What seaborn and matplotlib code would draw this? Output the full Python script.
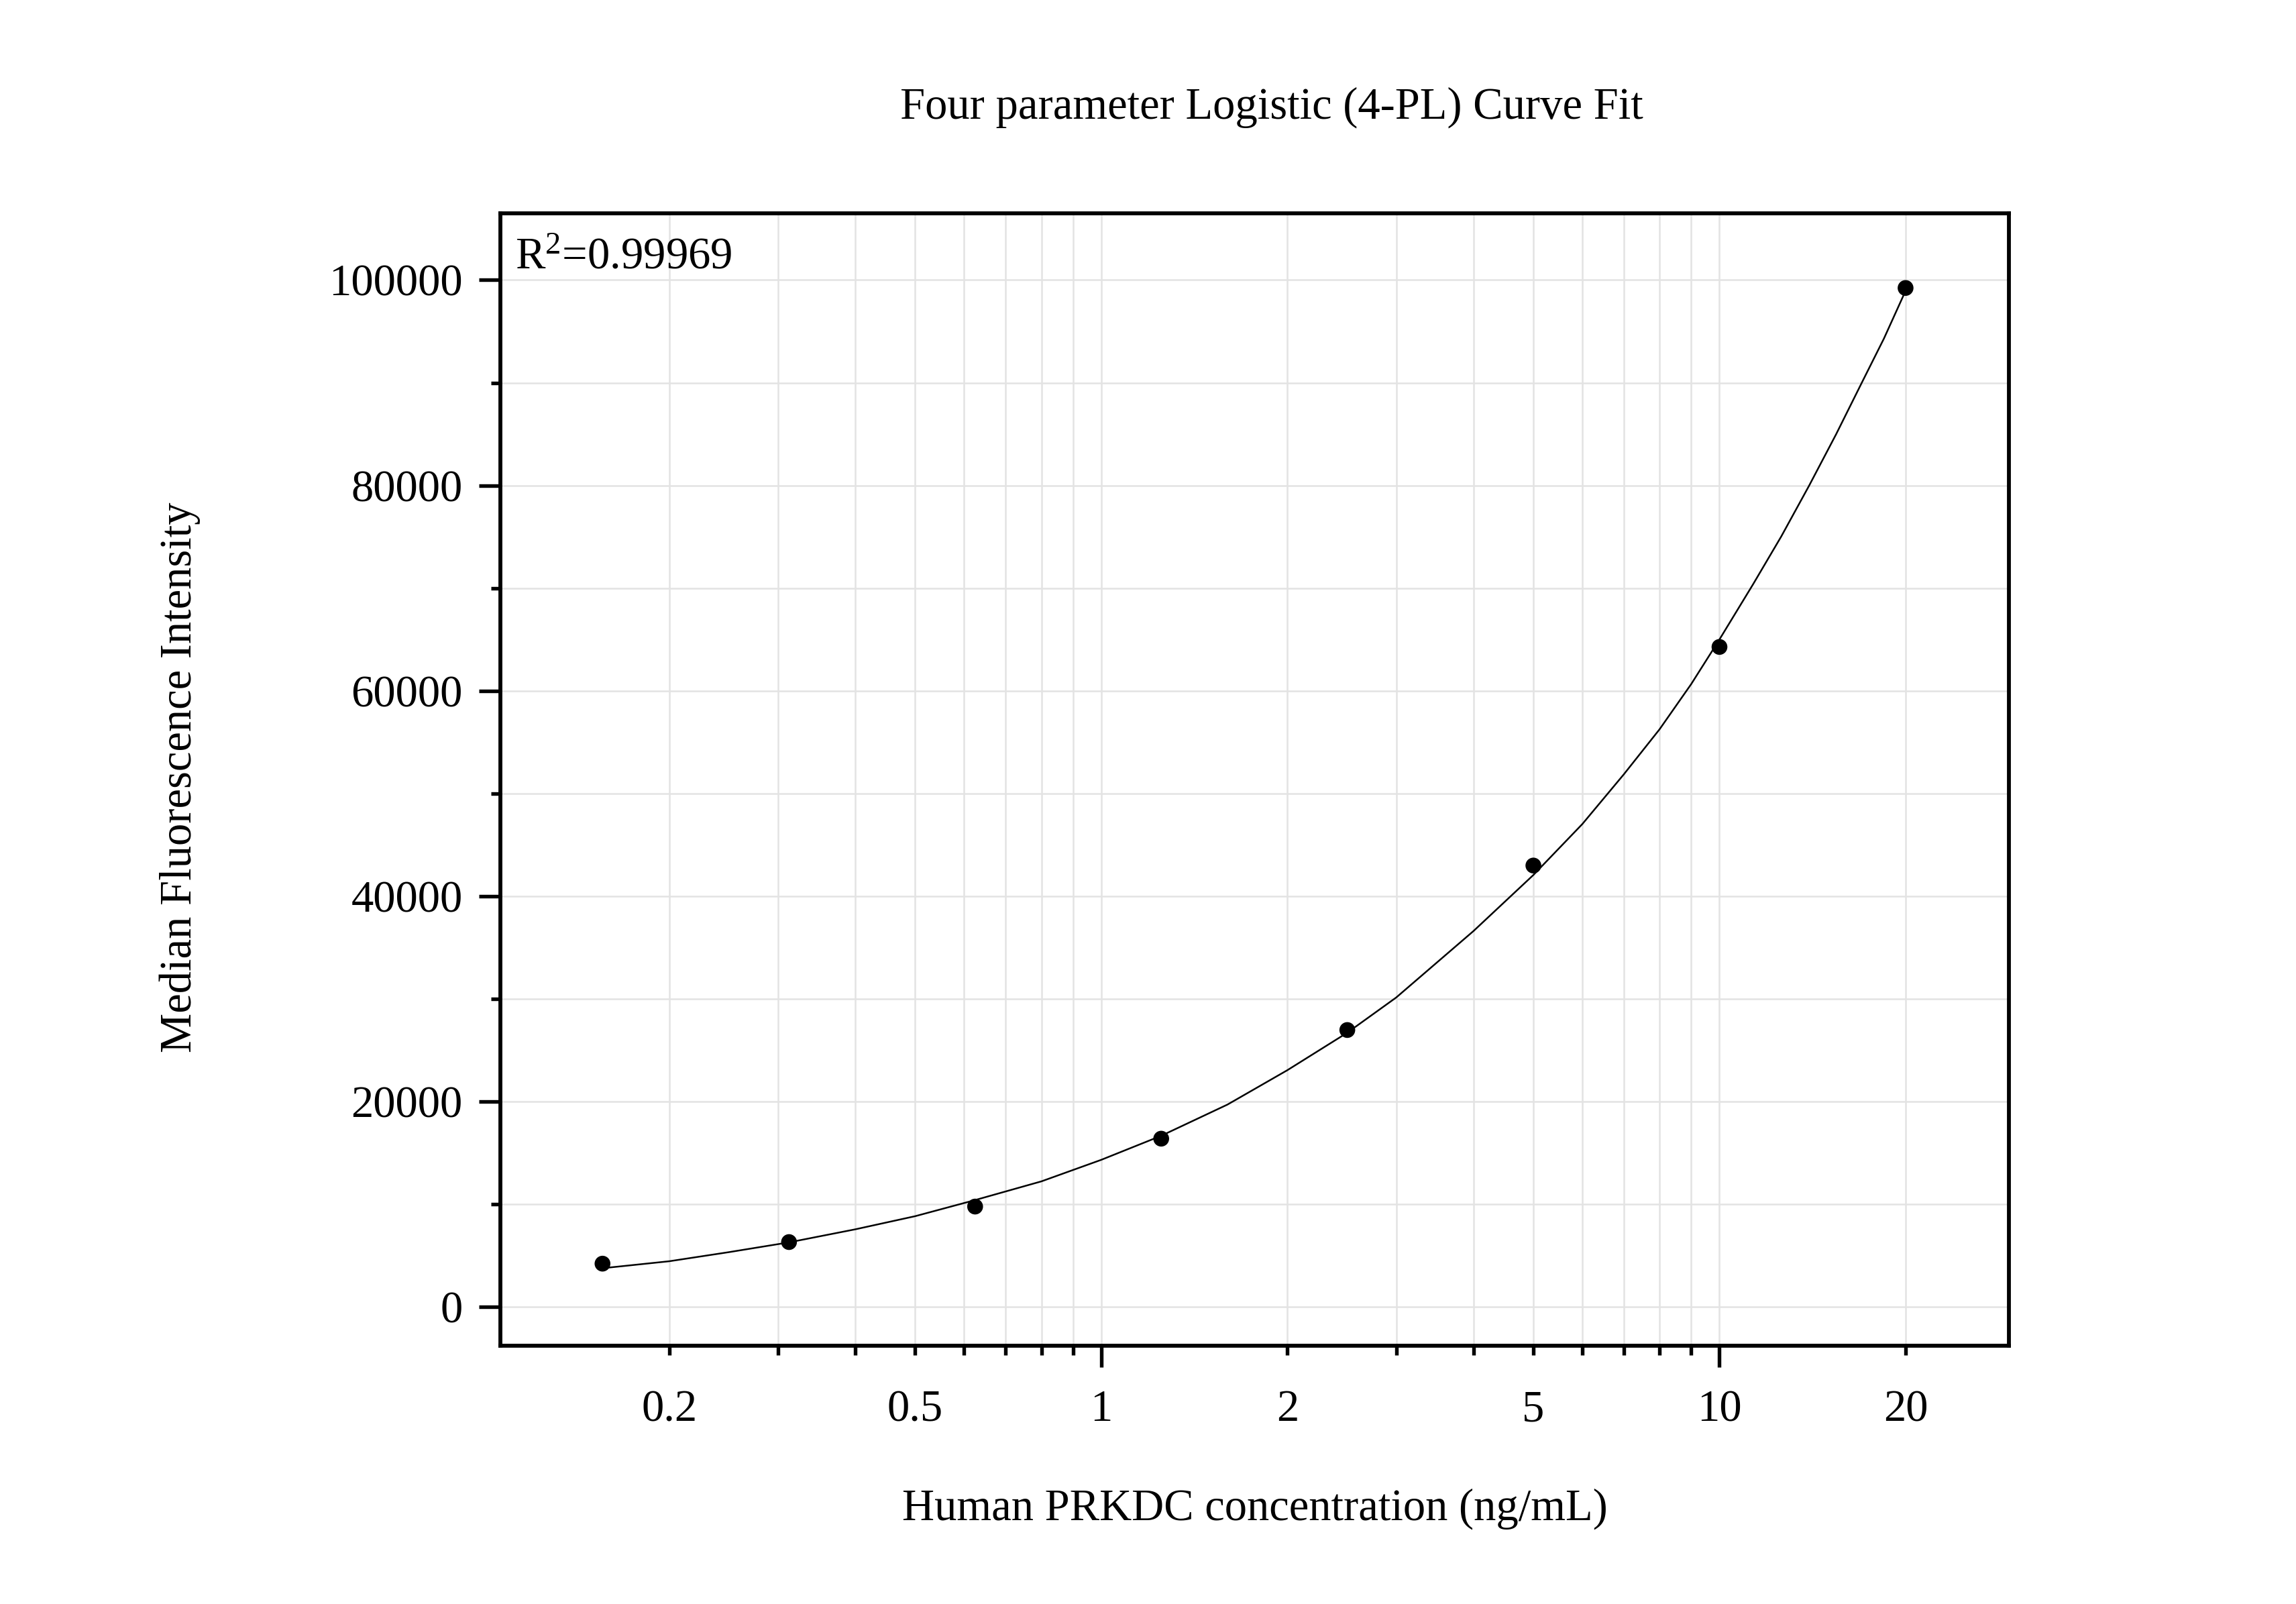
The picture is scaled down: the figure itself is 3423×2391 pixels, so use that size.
import numpy as np
import pandas as pd
import matplotlib
matplotlib.use("Agg")
import matplotlib.pyplot as plt
from matplotlib.ticker import FixedLocator, FixedFormatter, NullFormatter
import seaborn as sns

# standard points (ng/mL vs MFI)
conc = [0.156, 0.3125, 0.625, 1.25, 2.5, 5, 10, 20]
mfi = [4206, 6308, 9766, 16379, 26960, 42980, 64270, 99230]

# fitted 4-PL curve
fit_conc = [0.156, 0.2, 0.25, 0.3125, 0.4, 0.5, 0.625, 0.8, 1.0, 1.25, 1.6, 2.0,
            2.5, 3, 4, 5, 6, 7, 8, 9, 10, 11.34, 12.59, 13.97, 15.44, 16.99,
            18.45, 20]
fit_mfi = [3760, 4440, 5330, 6280, 7550, 8830, 10400, 12220, 14320, 16660, 19700,
           23050, 26700, 30130, 36600, 42060, 47020, 51850, 56250, 60650, 65000,
           70400, 75040, 80000, 84980, 90000, 94300, 98950]

x_major = [1, 10]
x_label_minor = [0.2, 0.5, 2, 5, 20]
x_minor = [0.2, 0.3, 0.4, 0.5, 0.6, 0.7, 0.8, 0.9,
           2, 3, 4, 5, 6, 7, 8, 9, 20]
y_major = [0, 20000, 40000, 60000, 80000, 100000]
y_minor = [10000, 30000, 50000, 70000, 90000]

title = "Four parameter Logistic (4-PL) Curve Fit"
xlab = "Human PRKDC concentration (ng/mL)"
ylab = "Median Fluorescence Intensity"
r2_text = r"R$^{2}$=0.99969"

pts = pd.DataFrame({"conc": conc, "mfi": mfi})
fit = pd.DataFrame({"conc": fit_conc, "mfi": fit_mfi})

sns.set_theme(style="white")
plt.rcParams["font.family"] = ["Liberation Serif", "DejaVu Serif"]
plt.rcParams["mathtext.fontset"] = "custom"
plt.rcParams["mathtext.rm"] = "Liberation Serif"
plt.rcParams["mathtext.it"] = "Liberation Serif:italic"
for key in ["text.color", "axes.labelcolor", "xtick.color", "ytick.color"]:
    plt.rcParams[key] = "black"

fig = plt.figure(figsize=(3423 / 300, 2391 / 300), dpi=300)
ax = fig.add_axes([0.218, 0.161, 0.657, 0.706])

sns.lineplot(data=fit, x="conc", y="mfi", sort=False, estimator=None,
             color="black", lw=0.6, ax=ax)
sns.scatterplot(data=pts, x="conc", y="mfi", color="black", s=32,
                edgecolor="none", ax=ax, zorder=3)

ax.set_xscale("log")
ax.set_xlim(0.1067, 29.4)
ax.set_ylim(-3790, 106500)

ax.xaxis.set_major_locator(FixedLocator(x_major))
ax.xaxis.set_major_formatter(FixedFormatter([str(v) for v in x_major]))
ax.xaxis.set_minor_locator(FixedLocator(x_minor))
ax.xaxis.set_minor_formatter(FixedFormatter(
    [str(v) if v in x_label_minor else "" for v in x_minor]))
ax.yaxis.set_major_locator(FixedLocator(y_major))
ax.yaxis.set_minor_locator(FixedLocator(y_minor))
ax.yaxis.set_minor_formatter(NullFormatter())

fs = 16
ax.tick_params(which="major", direction="out", length=7.6, width=1.3,
               labelsize=fs, color="black", labelcolor="black",
               bottom=True, left=True)
ax.tick_params(which="minor", direction="out", length=3.3, width=1.3,
               labelsize=fs, color="black", labelcolor="black",
               bottom=True, left=True)
ax.tick_params(axis="x", which="major", pad=8.0)
ax.tick_params(axis="x", which="minor", pad=8.0 + 4.3)
ax.tick_params(axis="y", which="major", pad=6.0)

ax.grid(which="both", color="#e3e3e3", lw=0.6)
ax.set_axisbelow(True)
for sp in ax.spines.values():
    sp.set_visible(True)
    sp.set_color("black")
    sp.set_linewidth(1.4)

ax.set_xlabel(xlab, fontsize=fs, color="black")
ax.xaxis.set_label_coords(0.500, -0.144)
ax.xaxis.label.set_va("center")
ax.set_ylabel(ylab, fontsize=fs, color="black")
ax.yaxis.set_label_coords(-0.2126, 0.502)
ax.yaxis.label.set_va("center")

ax.text(0.0098, 0.951, r2_text, transform=ax.transAxes, fontsize=fs,
        ha="left", va="baseline", color="black")
fig.text(0.554, 0.933, title, fontsize=fs, ha="center", va="center",
         color="black")

fig.savefig("out.png", dpi=300)
plt.close(fig)
